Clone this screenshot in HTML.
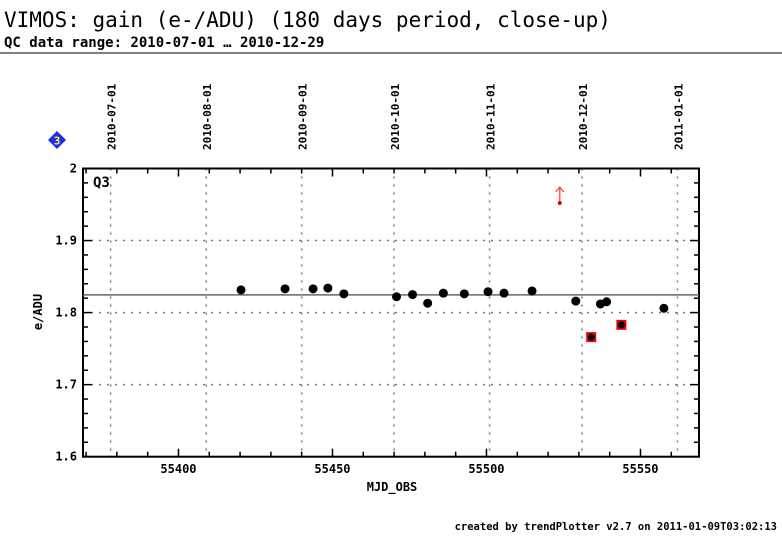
<!DOCTYPE html>
<html><head><meta charset="utf-8"><style>
body{margin:0;background:#fff;width:782px;height:542px;overflow:hidden}
svg text{font-family:"DejaVu Sans Mono","Liberation Mono",monospace}
</style></head><body>
<svg id="chart" width="782" height="542" xmlns="http://www.w3.org/2000/svg">
<text x="4" y="27" font-size="21">VIMOS: gain (e-/ADU) (180 days period, close-up)</text>
<text x="4" y="47" font-size="14" font-weight="bold">QC data range: 2010-07-01 … 2010-12-29</text>
<line x1="0" y1="53" x2="782" y2="53" stroke="#000" stroke-width="1"/>
<g><polygon points="57,131 66,140 57,149 48,140" fill="#1a2bff"/><text x="57" y="144.5" font-size="11" font-weight="bold" fill="#ff0" text-anchor="middle" font-family="Liberation Sans">3</text></g>
<g id="grid"></g><g id="axes"></g><g id="marks"></g>
<text x="93" y="187" font-size="14" font-weight="bold">Q3</text>
<text x="42" y="312" font-size="12" font-weight="bold" transform="rotate(-90 42 312)" text-anchor="middle">e/ADU</text>
<text x="392" y="491" font-size="12" font-weight="bold" text-anchor="middle">MJD_OBS</text>
<text x="777" y="530" font-size="10.5" font-weight="bold" text-anchor="end">created by trendPlotter v2.7 on 2011-01-09T03:02:13</text>
</svg>
<script>
const xTicks=[55400,55450,55500,55550];
const yTicks=[1.6,1.7,1.8,1.9,2];
const dateLabels=["2010-07-01","2010-08-01","2010-09-01","2010-10-01","2010-11-01","2010-12-01","2011-01-01"];
const dateMjd=[55378,55409,55440,55470,55501,55531,55562];
const mjd=[55420.3,55434.6,55443.7,55448.5,55453.7,55470.8,55476,55480.9,55486,55492.8,55500.5,55505.7,55514.8,55529,55537,55539,55557.6];
const gain=[1.8315,1.833,1.833,1.834,1.826,1.822,1.825,1.813,1.827,1.826,1.829,1.827,1.830,1.816,1.812,1.815,1.806];
const flagMjd=[55534,55543.8];
const flagGain=[1.766,1.783];
const outMjd=[55523.8];
const refValue=[1.8246];
const X0=55369,X1=55569,Y0=1.6,Y1=2,L=83,R=699,T=168.5,B=456.7;
const sx=v=>L+(v-X0)/(X1-X0)*(R-L), sy=v=>B-(v-Y0)/(Y1-Y0)*(B-T);
const NS="http://www.w3.org/2000/svg";
function mk(p,t,a){const e=document.createElementNS(NS,t);for(const k in a)e.setAttribute(k,a[k]);document.getElementById(p).appendChild(e);return e;}
const dash={stroke:"#777","stroke-width":1.5,"stroke-dasharray":"2,6"};
[1.7,1.8,1.9].forEach(v=>{const e=mk("grid","line",Object.assign({x1:L,x2:R,y1:sy(v),y2:sy(v)},dash));

});
dateMjd.forEach((m,i)=>{const x=sx(m);const e=mk("grid","line",Object.assign({x1:x,x2:x,y1:T,y2:B},dash));


const t=mk("axes","text",{x:x+5,y:150,"font-size":11,"font-weight":"bold",transform:`rotate(-90 ${x+5} 150)`});t.textContent=dateLabels[i];

});
const fr=mk("axes","rect",{x:L,y:T,width:R-L,height:B-T,fill:"none",stroke:"#000","stroke-width":2});


for(let v=X0+1;v<X1;v++){if(v%10)continue;const x=sx(v),h=v%50?5:8;
mk("axes","line",{x1:x,x2:x,y1:B,y2:B-h,stroke:"#000","stroke-width":1.5});mk("axes","line",{x1:x,x2:x,y1:T,y2:T+h,stroke:"#000","stroke-width":1.5});}
for(let k=0;k<=20;k++){const v=1.6+k*0.02,y=sy(v),h=k%5?5:9;
mk("axes","line",{x1:L,x2:L+h,y1:y,y2:y,stroke:"#000","stroke-width":1.5});mk("axes","line",{x1:R,x2:R-h,y1:y,y2:y,stroke:"#000","stroke-width":1.5});}
xTicks.forEach(v=>{const t=mk("axes","text",{x:sx(v),y:473,"font-size":12,"font-weight":"bold","text-anchor":"middle"});t.textContent=v;

});
yTicks.forEach(v=>{const t=mk("axes","text",{x:L-6,y:sy(v)+4,"font-size":12,"font-weight":"bold","text-anchor":"end"});t.textContent=String(v);

});
const rl=mk("marks","line",{x1:L,x2:R,y1:sy(refValue[0]),y2:sy(refValue[0]),stroke:"#666","stroke-width":1.5});


mjd.forEach((m,i)=>{const c=mk("marks","circle",{cx:sx(m),cy:sy(gain[i]),r:4.5,fill:"#000"});

});
flagMjd.forEach((m,i)=>{const x=sx(m),y=sy(flagGain[i]);
const s=mk("marks","rect",{x:x-5,y:y-5,width:10,height:10,fill:"#e00"});


mk("marks","circle",{cx:x,cy:y,r:3.5,fill:"#000"});});
outMjd.forEach(m=>{const x=sx(m);
const g=mk("marks","path",{d:`M${x},203 V188 M${x-4},192 L${x},187 L${x+4},192`,stroke:"#f44",fill:"none","stroke-width":1.3});


mk("marks","circle",{cx:x,cy:203,r:2,fill:"#e00"});});
</script>
</body></html>
